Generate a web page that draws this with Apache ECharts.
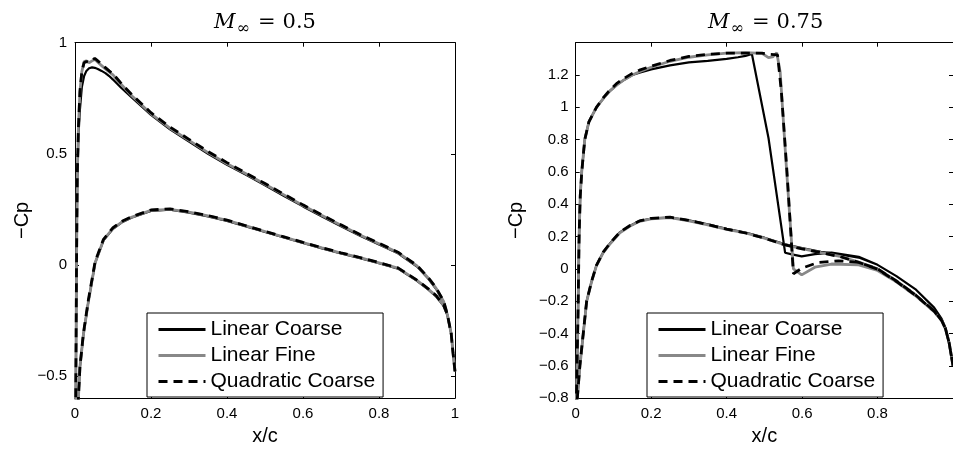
<!DOCTYPE html>
<html><head><meta charset="utf-8">
<script src="https://cdn.jsdelivr.net/npm/echarts@6/dist/echarts.min.js"></script>
<style>html,body{margin:0;padding:0;background:#fff}#c{width:953px;height:451px}</style>
</head><body><div id="c"></div>
<script>
// ---------- Names ----------
const seriesNames = ['Linear Coarse', 'Linear Fine', 'Quadratic Coarse'];
const titleA = '0.5';
const titleB = '0.75';

// ---------- Panel A: M = 0.5 ----------
const xUpperA = [0.001, 0.002, 0.003, 0.004, 0.006, 0.009, 0.013, 0.018, 0.024, 0.03, 0.037, 0.045, 0.052, 0.06, 0.07, 0.08, 0.09, 0.1, 0.12, 0.15, 0.2, 0.25, 0.3, 0.35, 0.4, 0.45, 0.5, 0.55, 0.6, 0.65, 0.7, 0.75, 0.8, 0.85, 0.9, 0.93, 0.95, 0.97, 0.98, 0.99, 0.995, 1.0];
const cpUpperA_linCoarse = [-1.0, -0.6, -0.3, 0.0, 0.38, 0.58, 0.7, 0.8, 0.85, 0.873, 0.885, 0.889, 0.887, 0.882, 0.873, 0.863, 0.85, 0.834, 0.8, 0.752, 0.675, 0.61, 0.555, 0.5, 0.45, 0.405, 0.358, 0.31, 0.263, 0.218, 0.174, 0.131, 0.092, 0.052, -0.008, -0.063, -0.108, -0.168, -0.228, -0.31, -0.4, -0.48];
const cpUpperA_linFine = [-1.0, -0.6, -0.3, 0.0, 0.4, 0.62, 0.78, 0.87, 0.915, 0.918, 0.91, 0.918, 0.925, 0.912, 0.897, 0.882, 0.868, 0.855, 0.815, 0.76, 0.68, 0.615, 0.56, 0.505, 0.455, 0.41, 0.363, 0.315, 0.267, 0.222, 0.178, 0.134, 0.095, 0.055, -0.005, -0.06, -0.105, -0.165, -0.225, -0.31, -0.4, -0.48];
const cpUpperA_quadCoarse = [-1.0, -0.6, -0.3, 0.0, 0.4, 0.62, 0.78, 0.87, 0.91, 0.915, 0.912, 0.92, 0.93, 0.918, 0.903, 0.888, 0.873, 0.86, 0.82, 0.765, 0.685, 0.62, 0.565, 0.51, 0.46, 0.413, 0.366, 0.318, 0.27, 0.225, 0.18, 0.136, 0.097, 0.057, -0.003, -0.058, -0.103, -0.163, -0.223, -0.31, -0.4, -0.48];

const xLowerA = [0.001, 0.005, 0.009, 0.013, 0.022, 0.035, 0.053, 0.075, 0.1, 0.125, 0.15, 0.2, 0.25, 0.3, 0.35, 0.4, 0.45, 0.5, 0.55, 0.6, 0.65, 0.7, 0.75, 0.8, 0.85, 0.9, 0.93, 0.95, 0.97, 0.98, 0.99, 0.995, 1.0];
const cpLowerA_linCoarse = [-1.0, -0.8, -0.6, -0.46, -0.316, -0.168, 0.009, 0.11, 0.162, 0.193, 0.213, 0.243, 0.248, 0.235, 0.218, 0.198, 0.173, 0.148, 0.123, 0.098, 0.074, 0.051, 0.03, 0.007, -0.017, -0.072, -0.112, -0.142, -0.185, -0.226, -0.31, -0.4, -0.48];
const cpLowerA_linFine = [-1.0, -0.8, -0.6, -0.46, -0.316, -0.168, 0.009, 0.112, 0.164, 0.195, 0.215, 0.245, 0.25, 0.237, 0.22, 0.2, 0.175, 0.15, 0.125, 0.1, 0.076, 0.053, 0.032, 0.009, -0.015, -0.07, -0.11, -0.14, -0.183, -0.225, -0.31, -0.4, -0.48];
const cpLowerA_quadCoarse = [-1.0, -0.8, -0.6, -0.46, -0.31, -0.16, 0.015, 0.115, 0.167, 0.197, 0.217, 0.247, 0.252, 0.239, 0.222, 0.201, 0.176, 0.151, 0.126, 0.101, 0.077, 0.054, 0.033, 0.01, -0.014, -0.069, -0.108, -0.138, -0.182, -0.224, -0.31, -0.4, -0.48];

// ---------- Panel B: M = 0.75 ----------
const xUpperB_linCoarse = [0.001, 0.006, 0.009, 0.012, 0.016, 0.024, 0.035, 0.055, 0.075, 0.09, 0.11, 0.125, 0.15, 0.169, 0.2, 0.25, 0.3, 0.35, 0.4, 0.43, 0.45, 0.467, 0.511, 0.555, 0.573, 0.599, 0.634, 0.678, 0.75, 0.8, 0.85, 0.9, 0.95, 0.97, 0.98, 0.99, 1.0];
const cpUpperB_linCoarse = [-0.9, -0.3, 0.2, 0.45, 0.6, 0.8, 0.91, 1.0, 1.06, 1.1, 1.14, 1.165, 1.2, 1.215, 1.235, 1.26, 1.278, 1.288, 1.3, 1.31, 1.318, 1.33, 0.81, 0.1, 0.09, 0.077, 0.091, 0.1, 0.075, 0.025, -0.045, -0.125, -0.24, -0.31, -0.365, -0.467, -0.6];
const xUpperB_linFine = [0.001, 0.006, 0.009, 0.012, 0.016, 0.024, 0.035, 0.055, 0.075, 0.09, 0.11, 0.125, 0.15, 0.169, 0.2, 0.25, 0.3, 0.35, 0.4, 0.45, 0.494, 0.511, 0.522, 0.533, 0.542, 0.559, 0.577, 0.599, 0.634, 0.678, 0.75, 0.8, 0.85, 0.9, 0.95, 0.97, 0.98, 0.99, 1.0];
const cpUpperB_linFine = [-0.9, -0.3, 0.2, 0.45, 0.6, 0.8, 0.91, 1.0, 1.06, 1.1, 1.14, 1.165, 1.2, 1.22, 1.248, 1.285, 1.31, 1.325, 1.335, 1.338, 1.334, 1.308, 1.312, 1.338, 1.217, 0.608, 0.0, -0.037, 0.01, 0.03, 0.025, -0.01, -0.08, -0.165, -0.265, -0.32, -0.37, -0.46, -0.6];
const xUpperB_quadCoarse = [0.001, 0.006, 0.009, 0.012, 0.016, 0.024, 0.035, 0.055, 0.075, 0.09, 0.11, 0.125, 0.15, 0.169, 0.2, 0.25, 0.3, 0.35, 0.4, 0.45, 0.494, 0.515, 0.535, 0.545, 0.56, 0.577, 0.6, 0.643, 0.696, 0.75, 0.8, 0.85, 0.9, 0.95, 0.97, 0.98, 0.99, 1.0];
const cpUpperB_quadCoarse = [-0.9, -0.3, 0.2, 0.45, 0.6, 0.8, 0.91, 1.0, 1.065, 1.105, 1.15, 1.175, 1.21, 1.23, 1.255, 1.29, 1.315, 1.328, 1.335, 1.335, 1.335, 1.328, 1.325, 1.1, 0.6, -0.03, 0.005, 0.04, 0.05, 0.04, 0.0, -0.075, -0.16, -0.26, -0.32, -0.37, -0.46, -0.6];

const xLowerB = [0.001, 0.006, 0.011, 0.02, 0.029, 0.042, 0.055, 0.073, 0.09, 0.117, 0.143, 0.169, 0.2, 0.25, 0.3, 0.35, 0.4, 0.45, 0.5, 0.555, 0.6, 0.65, 0.7, 0.75, 0.8, 0.85, 0.9, 0.95, 0.97, 0.98, 0.99, 1.0];
const cpLowerB_linCoarse = [-0.9, -0.75, -0.6, -0.4, -0.2, -0.078, 0.022, 0.103, 0.155, 0.226, 0.266, 0.296, 0.312, 0.318, 0.3, 0.275, 0.248, 0.225, 0.193, 0.152, 0.128, 0.105, 0.09, 0.07, 0.025, -0.045, -0.125, -0.24, -0.31, -0.365, -0.467, -0.6];
const cpLowerB_linFine = [-0.9, -0.75, -0.608, -0.406, -0.203, -0.081, 0.02, 0.101, 0.152, 0.223, 0.263, 0.294, 0.31, 0.317, 0.297, 0.272, 0.245, 0.222, 0.19, 0.148, 0.125, 0.1, 0.078, 0.042, 0.0, -0.075, -0.16, -0.265, -0.32, -0.37, -0.46, -0.6];
const cpLowerB_quadCoarse = [-0.9, -0.75, -0.6, -0.4, -0.2, -0.078, 0.022, 0.104, 0.156, 0.227, 0.267, 0.297, 0.313, 0.32, 0.3, 0.274, 0.246, 0.222, 0.19, 0.148, 0.124, 0.1, 0.076, 0.04, -0.002, -0.078, -0.162, -0.262, -0.32, -0.37, -0.46, -0.6];

// ---------- Axis ticks ----------
const yTicksA = [-0.5, 0, 0.5, 1];

// ---------- Build ----------
function loop(xu, yu, xl, yl) {
  const up = xu.map((x, i) => [x, yu[i]]).reverse();
  const lo = xl.map((x, i) => [x, yl[i]]);
  return up.concat(lo);
}
const SANS = 'Liberation Sans';
const SERIF = 'DejaVu Serif';
function fmt(v) {
  const r = Math.round(v * 1000) / 1000;
  return (r < 0 ? '\u2212' : '') + Math.abs(r);
}
const styles = [
  { color: '#000', width: 2.2, type: 'solid' },
  { color: '#888', width: 2.8, type: 'solid' },
  { color: '#000', width: 2.8, type: [9, 6] }
];
const dataA = [
  loop(xUpperA, cpUpperA_linCoarse, xLowerA, cpLowerA_linCoarse),
  loop(xUpperA, cpUpperA_linFine, xLowerA, cpLowerA_linFine),
  loop(xUpperA, cpUpperA_quadCoarse, xLowerA, cpLowerA_quadCoarse)
];
const dataB = [
  loop(xUpperB_linCoarse, cpUpperB_linCoarse, xLowerB, cpLowerB_linCoarse),
  loop(xUpperB_linFine, cpUpperB_linFine, xLowerB, cpLowerB_linFine),
  loop(xUpperB_quadCoarse, cpUpperB_quadCoarse, xLowerB, cpLowerB_quadCoarse)
];

const tickStyle = { show: true, inside: true, length: 4, lineStyle: { color: '#000', width: 1 } };
const lineStyleAx = { show: true, onZero: false, lineStyle: { color: '#000', width: 1 } };
const labelStyle = { show: true, color: '#000', fontSize: 15, fontFamily: SANS, formatter: fmt };
const nameStyle = { color: '#000', fontSize: 20, fontFamily: SANS };

function xAxes(g, hideMax) {
  return [
    { gridIndex: g, type: 'value', min: 0, max: 1, interval: 0.2, position: 'bottom',
      axisLine: lineStyleAx, axisTick: tickStyle,
      axisLabel: Object.assign({}, labelStyle, { margin: 8, showMaxLabel: !hideMax }),
      splitLine: { show: false }, name: 'x/c', nameLocation: 'middle', nameGap: 27, nameTextStyle: nameStyle },
    { gridIndex: g, type: 'value', min: 0, max: 1, interval: 0.2, position: 'top',
      axisLine: lineStyleAx, axisTick: tickStyle, axisLabel: { show: false }, splitLine: { show: false } }
  ];
}

const option = {
  animation: false,
  backgroundColor: '#fff',
  title: [
    { text: '{m|M}{s|\u221E}{e|=}{n|' + titleA + '}', left: 265, top: 9, textAlign: 'center', textVerticalAlign: 'top', padding: 0,
      textStyle: { fontWeight: 'normal', color: '#000', rich: null } },
    { text: '{m|M}{s|\u221E}{e|=}{n|' + titleB + '}', left: 765.7, top: 9, textAlign: 'center', textVerticalAlign: 'top', padding: 0,
      textStyle: { fontWeight: 'normal', color: '#000', rich: null } }
  ],
  grid: [
    { left: 75, top: 42.7, width: 380, height: 361.6, containLabel: false },
    { left: 575.7, top: 42.7, width: 380, height: 361.6, containLabel: false }
  ],
  xAxis: xAxes(0, false).concat(xAxes(1, true)),
  yAxis: [
    { gridIndex: 0, type: 'value', min: -0.6, max: 1, position: 'left',
      axisLine: lineStyleAx, axisTick: Object.assign({}, tickStyle, { customValues: yTicksA }),
      axisLabel: Object.assign({}, labelStyle, { margin: 8, customValues: yTicksA }),
      splitLine: { show: false }, name: '\u2212Cp', nameLocation: 'middle', nameGap: 43, nameTextStyle: nameStyle },
    { gridIndex: 0, type: 'value', min: -0.6, max: 1, position: 'right',
      axisLine: lineStyleAx, axisTick: Object.assign({}, tickStyle, { customValues: yTicksA }),
      axisLabel: { show: false }, splitLine: { show: false } },
    { gridIndex: 1, type: 'value', min: -0.8, max: 1.4, interval: 0.2, position: 'left',
      axisLine: lineStyleAx, axisTick: tickStyle,
      axisLabel: Object.assign({}, labelStyle, { margin: 7, showMaxLabel: false }),
      splitLine: { show: false }, name: '\u2212Cp', nameLocation: 'middle', nameGap: 49, nameTextStyle: nameStyle },
    { gridIndex: 1, type: 'value', min: -0.8, max: 1.4, interval: 0.2, position: 'right',
      axisLine: lineStyleAx, axisTick: tickStyle, axisLabel: { show: false }, splitLine: { show: false } }
  ],
  legend: [147, 647].map(l => ({
    data: seriesNames, orient: 'vertical', left: l, top: 313,
    padding: [6, 8, 5, 10], itemGap: 5, itemWidth: 47, itemHeight: 2,
    borderColor: '#000', borderWidth: 1, backgroundColor: '#fff', selectedMode: false,
    textStyle: { fontSize: 21, fontFamily: SANS, color: '#000', lineHeight: 21 },
    lineStyle: { width: 3 },
    itemStyle: { color: 'rgba(0,0,0,0)', borderWidth: 0 }
  })),
  series: []
};
const rich = {
  m: { fontFamily: SERIF, fontStyle: 'italic', fontSize: 21, lineHeight: 28, color: '#000' },
  s: { fontFamily: SERIF, fontSize: 16, lineHeight: 16, verticalAlign: 'bottom', color: '#000', padding: [0, 0, 0, 1] },
  e: { fontFamily: SERIF, fontSize: 21, lineHeight: 28, color: '#000', padding: [0, 7, 0, 8] },
  n: { fontFamily: SERIF, fontSize: 21, lineHeight: 28, color: '#000' }
};
option.title.forEach(t => { t.textStyle.rich = rich; });

[dataA, dataB].forEach((set, g) => {
  set.forEach((d, i) => {
    option.series.push({
      name: seriesNames[i], type: 'line', xAxisIndex: g * 2, yAxisIndex: g * 2,
      data: d, symbol: 'none', showSymbol: false, clip: true, smooth: false,
      lineStyle: styles[i], itemStyle: { color: styles[i].color },
      emphasis: { disabled: true }, silent: true
    });
  });
});

const chart = echarts.init(document.getElementById('c'), null, { renderer: 'canvas' });
chart.setOption(option);
</script></body></html>
